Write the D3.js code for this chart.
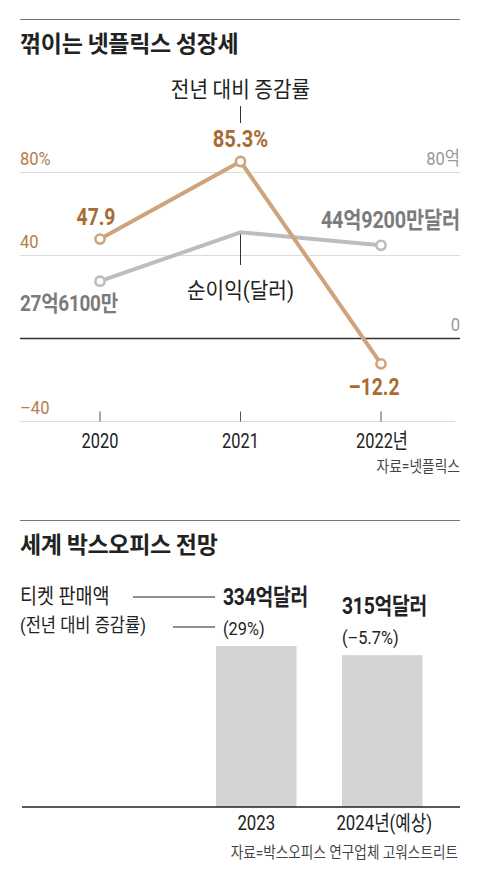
<!DOCTYPE html>
<html>
<head>
<meta charset="utf-8">
<script src="https://cdn.jsdelivr.net/npm/d3@7"></script>
<style>
  body { margin: 0; background: #fff; }
  svg { display: block; font-family: "Roboto", "Noto Sans CJK KR", sans-serif; }
  .kr { font-family: "Noto Sans CJK KR", sans-serif; }
</style>
</head>
<body>
<div id="chart"></div>
<script>
// Netflix: growth rate (%) and net income (억 달러)
const years = ["2020", "2021", "2022"];
const yearLabels = ["2020", "2021", "2022년"];
const growthRate = [47.9, 85.3, -12.2];
const growthLabels = ["47.9", "85.3%", "–12.2"];
const netIncome = [27.61, 51.16, 44.92];
const incomeLabels = ["27억6100만", "", "44억9200만달러"];
const rateTicks = [80, 40, 0, -40];
const rateTickLabels = ["80%", "40", "", "–40"];
const incomeTicks = [80, 0];
const incomeTickLabels = ["80억", "0"];

// Global box office (억 달러)
const boxYears = ["2023", "2024년(예상)"];
const boxSales = [334, 315];
const boxSalesLabels = ["334억달러", "315억달러"];
const boxChangeLabels = ["(29%)", "(–5.7%)"];

const W = 480, H = 880;
const brown = "#cfa37b", brownText = "#a86b32", brownAxis = "#b57e4c";
const gray = "#bdbdbd", grayText = "#7b7b7b";

const svg = d3.select("#chart").append("svg")
  .attr("width", W).attr("height", H);

// condensed text helper
function label(g, x, y, str, opt) {
  opt = opt || {};
  return g.append("text")
    .attr("transform", `translate(${x},${y}) scale(${opt.sx || 0.85},1)`)
    .attr("text-anchor", opt.anchor || "start")
    .attr("class", opt.cls || null)
    .style("font-size", (opt.size || 20) + "px")
    .style("font-weight", opt.bold ? 700 : 400)
    .style("letter-spacing", (opt.ls || 0) + "px")
    .attr("fill", opt.color || "#222")
    .text(str);
}

// ---------- Chart 1 ----------
const g1 = svg.append("g");

g1.append("line").attr("x1", 20).attr("x2", 460).attr("y1", 19.5).attr("y2", 19.5)
  .attr("stroke", "#777").attr("stroke-width", 1.2);
label(g1, 20, 52, "꺾이는 넷플릭스 성장세", { size: 23, bold: true, sx: 1, cls: "kr", ls: -0.3 });

const x = d3.scalePoint().domain(years).range([100, 381]);
const yRate = d3.scaleLinear().domain([-40, 80]).range([421.5, 172.5]);
const yInc = d3.scaleLinear().domain([-40, 80]).range([421.5, 172.5]);

// gridlines
g1.selectAll(".grid").data(rateTicks).join("line")
  .attr("x1", 20).attr("x2", d => d === -40 ? 455 : 460)
  .attr("y1", d => yRate(d)).attr("y2", d => yRate(d))
  .attr("stroke", d => d === 0 ? "#333" : "#dcdcdc")
  .attr("stroke-width", d => d === 0 ? 1.3 : 1.2);

// left axis labels
rateTicks.forEach((t, i) => {
  if (rateTickLabels[i]) label(g1, 20, yRate(t) - 7.5, rateTickLabels[i], { size: 19, color: brownAxis, sx: 0.87 });
});
// right axis labels
incomeTicks.forEach((t, i) => {
  label(g1, 460, yInc(t) - 7.5, incomeTickLabels[i], { size: 19, color: "#999", anchor: "end", sx: 0.87 });
});

// x ticks
g1.selectAll(".xtick").data(years).join("line")
  .attr("x1", d => x(d)).attr("x2", d => x(d))
  .attr("y1", yRate(-40) - 10).attr("y2", yRate(-40))
  .attr("stroke", "#555").attr("stroke-width", 1);
years.forEach((d, i) => {
  label(g1, x(d) + (i === 2 ? 1 : 0), 447.5, yearLabels[i], { size: 21, anchor: "middle", sx: 0.78 });
});

// leader lines at 2021
g1.append("line").attr("x1", x("2021")).attr("x2", x("2021"))
  .attr("y1", 106).attr("y2", 123).attr("stroke", "#333");
g1.append("line").attr("x1", x("2021")).attr("x2", x("2021"))
  .attr("y1", yInc(netIncome[1])).attr("y2", 265).attr("stroke", "#333");
label(g1, x("2021"), 97, "전년 대비 증감률", { size: 22, anchor: "middle", sx: 0.92, cls: "kr" });
label(g1, x("2021"), 298, "순이익(달러)", { size: 22, anchor: "middle", sx: 0.92 });

// net income line
const lineInc = d3.line().x((d, i) => x(years[i])).y(d => yInc(d));
g1.append("path").datum(netIncome)
  .attr("d", lineInc).attr("fill", "none")
  .attr("stroke", gray).attr("stroke-width", 4).attr("stroke-linejoin", "round");
g1.selectAll(".incDot").data(netIncome.filter((d, i) => i !== 1)).join("circle")
  .attr("cx", (d, i) => x(years[i === 0 ? 0 : 2])).attr("cy", d => yInc(d))
  .attr("r", 4.6).attr("fill", "#fff").attr("stroke", gray).attr("stroke-width", 2.6);

// growth line
const lineRate = d3.line().x((d, i) => x(years[i])).y(d => yRate(d));
g1.append("path").datum(growthRate)
  .attr("d", lineRate).attr("fill", "none")
  .attr("stroke", brown).attr("stroke-width", 4).attr("stroke-linejoin", "round");
g1.selectAll(".rateDot").data(growthRate).join("circle")
  .attr("cx", (d, i) => x(years[i])).attr("cy", d => yRate(d))
  .attr("r", 4.6).attr("fill", "#fff").attr("stroke", brown).attr("stroke-width", 2.6);

// growth value labels
label(g1, x(years[0]) - 4, yRate(growthRate[0]) - 14, growthLabels[0], { size: 23, bold: true, color: brownText, anchor: "middle", sx: 0.84 });
label(g1, x(years[1]), yRate(growthRate[1]) - 15, growthLabels[1], { size: 24, bold: true, color: brownText, anchor: "middle", sx: 0.84 });
label(g1, x(years[2]) - 7, yRate(growthRate[2]) + 31, growthLabels[2], { size: 23, bold: true, color: brownText, anchor: "middle", sx: 0.84 });

// income value labels
label(g1, 20, yInc(netIncome[0]) + 30, incomeLabels[0], { size: 22, bold: true, color: grayText, sx: 0.86, ls: -0.3 });
label(g1, 460, yInc(netIncome[2]) - 17, incomeLabels[2], { size: 23, bold: true, color: grayText, anchor: "end", sx: 0.86, ls: -0.2 });

label(g1, 460, 472, "자료=넷플릭스", { size: 16, color: "#444", anchor: "end", sx: 0.86 });

// ---------- Chart 2 ----------
const g2 = svg.append("g");
g2.append("line").attr("x1", 20).attr("x2", 460).attr("y1", 520.5).attr("y2", 520.5)
  .attr("stroke", "#777").attr("stroke-width", 1.2);
label(g2, 20, 553, "세계 박스오피스 전망", { size: 23, bold: true, sx: 1, cls: "kr", ls: -0.3 });

const xb = d3.scaleBand().domain(boxYears).range([216, 422.5]).paddingInner(0.361).paddingOuter(0);
const yb = d3.scaleLinear().domain([0, 334]).range([807, 646]);

g2.selectAll(".bar").data(boxSales).join("rect")
  .attr("x", (d, i) => xb(boxYears[i])).attr("width", xb.bandwidth())
  .attr("y", d => yb(d)).attr("height", d => yb(0) - yb(d))
  .attr("fill", "#d3d3d3");

g2.append("line").attr("x1", 22).attr("x2", 460).attr("y1", yb(0)).attr("y2", yb(0))
  .attr("stroke", "#222").attr("stroke-width", 1.4);

const labelOffset = [7, 0];
boxSales.forEach((d, i) => {
  const bx = xb(boxYears[i]) + labelOffset[i];
  label(g2, bx, yb(d) - 41, boxSalesLabels[i], { size: 23, bold: true, sx: 0.84, ls: -0.3 });
  label(g2, bx, yb(d) - 11, boxChangeLabels[i], { size: 19, sx: 0.86 });
  label(g2, xb(boxYears[i]) + xb.bandwidth() / 2 + (i === 1 ? 2 : 0), 829.5, boxYears[i], { size: 21, anchor: "middle", sx: 0.8 });
});

// legend
label(g2, 20, 603, "티켓 판매액", { size: 21, sx: 0.88 });
label(g2, 20, 632, "(전년 대비 증감률)", { size: 19, sx: 0.87 });
g2.append("line").attr("x1", 133).attr("x2", 215).attr("y1", 597).attr("y2", 597).attr("stroke", "#222");
g2.append("line").attr("x1", 173).attr("x2", 215).attr("y1", 627).attr("y2", 627).attr("stroke", "#222");

label(g2, 458, 858, "자료=박스오피스 연구업체 고워스트리트", { size: 15.5, color: "#444", anchor: "end", sx: 0.88 });
</script>
</body>
</html>
